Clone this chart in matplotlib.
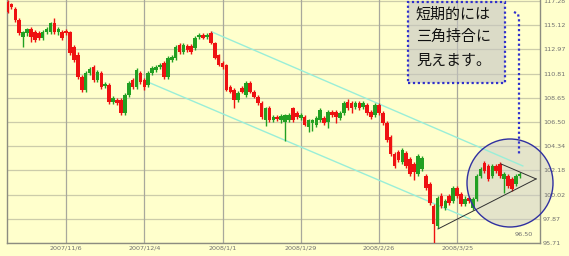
import matplotlib
matplotlib.use("Agg")
import matplotlib.pyplot as plt
import matplotlib.patches as mpatches
import numpy as np
import pandas as pd

# ---------------- data ----------------
start_date = "2007-10-16"
n_days = 132
dates = pd.bdate_range(start_date, periods=n_days)

opens = [117.19,117.01,116.57,115.59,114.07,114.43,114.79,114.52,114.43,113.98,
         114.52,114.52,115.32,114.52,114.52,114.61,114.52,113.18,112.47,110.51,
         109.35,110.87,111.40,110.24,110.87,109.71,109.80,108.28,108.46,108.46,
         107.30,108.91,110.24,109.62,110.87,110.24,109.80,110.87,111.13,111.40,
         111.76,110.51,112.02,112.20,113.36,112.74,113.27,113.27,113.09,114.07,
         114.25,114.07,114.43,113.54,112.47,111.76,111.58,109.62,109.35,108.46,
         109.53,108.91,109.97,109.17,108.73,108.19,106.68,107.75,106.68,106.94,
         106.68,106.50,106.68,107.75,107.30,106.85,106.94,106.05,106.41,106.23,
         106.68,106.85,106.50,107.39,107.39,106.85,107.30,108.28,108.19,107.83,
         108.19,107.83,108.01,107.39,107.12,108.01,107.30,106.41,105.16,103.65,
         103.83,102.93,103.74,103.20,102.76,101.87,102.31,101.69,100.98,99.02,
         97.23,99.91,98.84,99.91,99.46,100.62,100.08,99.19,99.73,98.84,
         99.64,101.69,102.85,102.58,101.69,102.58,102.76,101.42,101.69,101.42,
         100.98,101.69]
highs = [117.37,117.10,116.75,115.77,114.61,114.88,114.97,114.70,114.61,114.70,
         114.97,115.41,115.77,114.97,114.70,114.79,114.61,113.36,112.74,110.69,
         111.04,111.40,111.58,111.13,111.04,110.06,109.97,108.82,108.64,108.64,
         109.08,110.15,110.42,111.31,111.04,110.42,111.04,111.49,111.58,111.76,
         111.94,112.38,112.47,113.36,113.54,113.54,113.45,113.45,114.16,114.43,
         114.43,114.43,114.61,113.63,112.56,111.94,111.67,109.80,109.53,109.26,
         109.71,110.15,110.15,109.35,108.91,108.37,107.83,107.92,107.12,107.12,
         107.21,107.21,107.30,107.83,107.48,107.30,107.12,106.77,106.77,107.03,
         107.75,107.03,107.57,107.57,107.57,107.48,108.37,108.55,108.37,108.37,
         108.37,108.37,108.19,107.57,108.19,108.19,107.48,106.59,105.34,103.83,
         104.00,104.18,103.92,103.38,102.93,103.65,103.47,101.87,101.15,99.19,
         99.91,100.17,99.64,100.08,100.80,100.80,100.26,99.91,99.91,99.82,
         101.87,102.49,103.02,102.76,102.76,102.76,102.93,102.04,101.87,101.60,
         101.87,102.04]
lows = [116.21,116.57,115.41,114.25,113.18,114.16,113.63,113.63,113.81,113.81,
        114.34,114.34,114.34,114.25,113.81,114.25,112.47,111.85,110.33,109.17,
        109.17,110.69,110.06,110.06,109.44,109.53,108.10,108.10,108.01,107.12,
        107.12,108.73,109.44,109.44,109.89,109.35,109.62,110.69,110.96,111.22,
        110.33,110.33,111.85,112.02,112.56,112.56,112.74,112.56,112.92,113.89,
        113.89,113.89,113.45,112.11,111.49,111.22,109.26,109.08,107.75,108.28,
        109.08,108.73,109.08,108.64,108.01,106.77,106.14,106.50,106.50,106.59,
        106.41,104.81,106.50,106.50,106.77,106.68,106.14,105.61,105.70,106.05,
        106.50,106.23,105.96,106.94,106.41,106.68,107.12,107.57,107.30,107.66,
        107.57,107.66,107.12,106.77,106.94,107.12,106.23,104.72,103.47,102.40,
        102.93,102.76,102.40,101.69,101.33,101.69,102.13,100.44,99.10,95.72,
        97.05,98.84,98.66,99.10,99.28,99.73,99.02,99.02,99.28,98.66,
        99.46,101.51,101.95,101.24,101.51,101.95,101.51,100.17,100.62,100.35,
        100.80,101.51]
closes = [116.30,116.75,115.59,114.43,114.52,114.79,114.07,113.81,113.98,114.52,
          114.79,115.32,114.52,114.79,113.98,114.43,112.65,112.02,110.51,109.35,
          110.87,111.22,110.24,110.96,109.62,109.89,108.28,108.64,108.19,107.30,
          108.91,109.97,109.62,111.13,110.06,109.62,110.87,111.31,111.40,111.58,
          110.51,112.20,112.29,113.18,112.74,113.36,112.92,112.74,113.98,114.25,
          113.98,114.25,113.54,112.20,111.58,111.40,109.35,109.17,108.46,109.08,
          109.17,109.97,109.17,108.73,108.19,106.94,107.75,106.68,106.94,106.77,
          107.03,107.12,107.12,106.68,106.94,107.12,106.23,106.68,106.68,106.85,
          107.57,106.41,107.39,107.12,106.94,107.30,108.19,107.75,107.75,108.19,
          107.75,108.19,107.30,106.94,108.01,107.30,106.41,104.89,103.65,102.58,
          103.11,104.00,102.58,101.87,102.04,103.47,103.29,100.62,99.28,97.41,
          99.73,99.02,99.46,99.28,100.62,99.91,99.19,99.64,99.46,99.64,
          101.69,102.31,102.13,101.42,102.58,102.13,101.69,101.87,100.80,100.53,
          101.69,101.87]

y_tick_labels = ["95.71","97.87","100.02","102.18","104.34","106.50",
                 "108.65","110.81","112.97","115.12","117.28"]
x_tick_dates = ["2007-11-06","2007-12-04","2008-01-01","2008-01-29",
                "2008-02-26","2008-03-25"]
x_tick_labels = ["2007/11/6","2007/12/4","2008/1/1","2008/1/29",
                 "2008/2/26","2008/3/25"]

# trend channel (parallel lines) and triangle: (date index, price)
channel_upper = [(52.3, 114.52), (131.8, 102.58)]
channel_lower = [(36.5, 109.97), (118.3, 97.86)]
tri_lower = [(110.1, 96.96), (135.2, 101.42)]
tri_upper = [(126.2, 102.76), (135.2, 101.42)]
low_marker_text = "96.50"
note_lines = ["短期的には", "三角持合に", "見えます。"]

# ---------------- figure ----------------
W, H = 569, 256
fig = plt.figure(figsize=(W / 100, H / 100), dpi=100)
bg = "#FFFFCC"
fig.patch.set_facecolor(bg)

L, R, T, B = 7, 540, 0, 243
ax = fig.add_axes([L / W, 1 - B / H, (R - L) / W, (B - T) / H])
ax.set_facecolor(bg)

x = np.arange(n_days)
o = np.array(opens); h = np.array(highs); l = np.array(lows); c = np.array(closes)
up = c >= o
col = np.where(up, "#22A022", "#EE1111")

ax.vlines(x, l, h, colors=col, linewidth=1.0, zorder=3)
ax.bar(x, np.abs(c - o) + 0.02, bottom=np.minimum(o, c), width=0.92,
       color=col, edgecolor=col, linewidth=0, zorder=4)

ax.set_xlim(-0.13, 136.2)
ax.set_ylim(95.71, 117.37)

yt = [float(v) for v in y_tick_labels]
ax.set_yticks(yt)
ax.set_yticklabels(y_tick_labels)
xt = [dates.get_loc(pd.Timestamp(d)) for d in x_tick_dates]
ax.set_xticks(xt)
ax.set_xticklabels(x_tick_labels)

ax.yaxis.tick_right()
ax.tick_params(axis="both", length=0, labelsize=4.6, colors="#707070")
ax.tick_params(axis="y", pad=2)
ax.tick_params(axis="x", pad=1.8)

for v in yt:
    ax.axhline(v, color="#CCCCAA", linewidth=0.9, zorder=0.8)
for v in xt:
    ax.axvline(v, color="#A8A89C", linewidth=0.9, zorder=0.8)

for s in ["left", "bottom", "right"]:
    ax.spines[s].set_color("#8C8C80")
    ax.spines[s].set_linewidth(1.0)
ax.spines["top"].set_visible(False)

# channel lines
for ln in (channel_upper, channel_lower):
    ax.plot([p[0] for p in ln], [p[1] for p in ln], color="#99EED8",
            linewidth=1.0, zorder=2)

# circle highlight (figure pixel coords), fill behind the candles
circ = mpatches.Ellipse((510 / W, 1 - 183 / H), 86 / W, 88 / H,
                        transform=fig.transFigure, facecolor="#CACACA",
                        alpha=0.5, edgecolor="none", zorder=1, clip_on=False)
ax.add_artist(circ)
circ_e = mpatches.Ellipse((510 / W, 1 - 183 / H), 86 / W, 88 / H,
                          transform=fig.transFigure, facecolor="none",
                          edgecolor="#3030A0", linewidth=1.0, zorder=6,
                          clip_on=False)
ax.add_artist(circ_e)

# triangle lines
for ln in (tri_lower, tri_upper):
    ax.plot([p[0] for p in ln], [p[1] for p in ln], color="#303030",
            linewidth=0.7, zorder=5, clip_on=False)

ax.text(134.5, 96.5, low_marker_text, fontsize=4.6, color="#707070",
        ha="right", va="center", zorder=6)

# note box
box = mpatches.Rectangle((408 / W, 1 - 83 / H), 97 / W, 81 / H,
                         transform=fig.transFigure, facecolor="#C4C4C4",
                         alpha=0.6, edgecolor="none", zorder=7)
fig.patches.append(box)
box_e = mpatches.Rectangle((408 / W, 1 - 83 / H), 97 / W, 81 / H,
                           transform=fig.transFigure, facecolor="none",
                           edgecolor="#3030CC", linewidth=1.6,
                           linestyle=(0, (1, 1.2)), zorder=8)
fig.patches.append(box_e)
for k, (t, yy) in enumerate(zip(note_lines, [15, 37, 61])):
    fig.text(416 / W, 1 - yy / H, t, fontsize=10.8, color="#111111",
             family=["Noto Sans CJK JP", "DejaVu Sans"], ha="left",
             va="center", zorder=9)

# dotted connector
conn = plt.Line2D([514 / W, 518 / W, 519 / W, 519 / W],
                  [1 - 12 / H, 1 - 14 / H, 1 - 19 / H, 1 - 155 / H],
                  transform=fig.transFigure, color="#3030CC", linewidth=1.6,
                  linestyle=(0, (1, 1.2)), zorder=9)
fig.lines.append(conn)

fig.savefig("out.png", dpi=100, facecolor=bg)
